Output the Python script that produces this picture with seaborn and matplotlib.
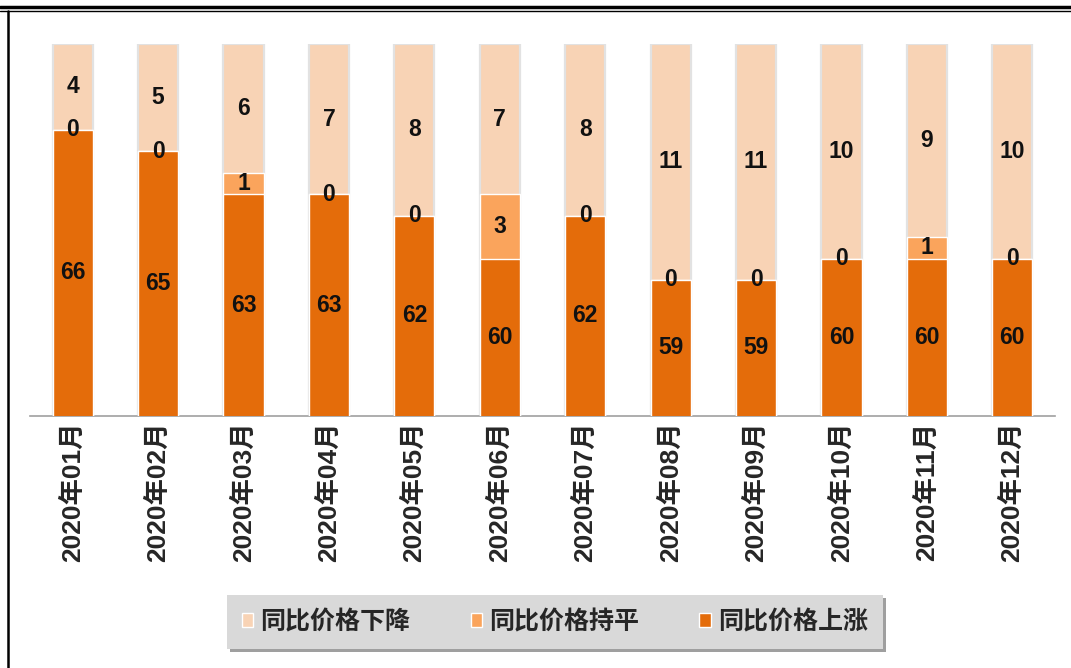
import matplotlib
matplotlib.use("Agg")
import matplotlib.pyplot as plt
import seaborn as sns
import pandas as pd
from matplotlib.lines import Line2D
from matplotlib.patches import Patch

# Monthly count of cities by year-on-year price change
months = ["2020年01月", "2020年02月", "2020年03月", "2020年04月", "2020年05月", "2020年06月",
          "2020年07月", "2020年08月", "2020年09月", "2020年10月", "2020年11月", "2020年12月"]
rise = [66, 65, 63, 63, 62, 60, 62, 59, 59, 60, 60, 60]
flat = [0, 0, 1, 0, 0, 3, 0, 0, 0, 0, 1, 0]
fall = [4, 5, 6, 7, 8, 7, 8, 11, 11, 10, 9, 10]
series_names = ["同比价格下降", "同比价格持平", "同比价格上涨"]
series_colors = ["#F8D3B5", "#FAA45C", "#E46C0A"]
y_floor = 52.66

sns.set_style("white")
plt.rcParams["font.family"] = ["Liberation Sans", "Noto Sans CJK SC", "DejaVu Sans"]

df = pd.DataFrame({"month": months, "rise": rise, "flat": flat, "fall": fall})
df["rise_flat"] = df["rise"] + df["flat"]
df["total"] = df["rise_flat"] + df["fall"]

W, H = 1071, 668
fig = plt.figure(figsize=(W / 100, H / 100), dpi=100)
ax = fig.add_axes([30 / W, 1 - 416 / H, 1025 / W, 372 / H])

bar_w = 0.47
# stacked bars: draw cumulative totals from the top layer down
sns.barplot(data=df, x="month", y="total", color=series_colors[0], saturation=1,
            width=bar_w, edgecolor="#E2E2E2", linewidth=1.6, errorbar=None, ax=ax, zorder=2)
sns.barplot(data=df, x="month", y="rise_flat", color=series_colors[1], saturation=1,
            width=bar_w, edgecolor="white", linewidth=1.0, errorbar=None, ax=ax, zorder=3)
sns.barplot(data=df, x="month", y="rise", color=series_colors[2], saturation=1,
            width=bar_w, edgecolor="white", linewidth=1.0, errorbar=None, ax=ax, zorder=4)

ax.set_xlim(-0.5, len(months) - 0.5)
ax.set_ylim(y_floor, 70)

# value labels centred in each visible segment
lab_kw = dict(ha="center", va="center", fontsize=16.5, fontweight="bold", color="#111111", zorder=6)
for i, row in df.iterrows():
    ax.text(i, (y_floor + row["rise"]) / 2, f"{row['rise']}", **lab_kw)
    ax.text(i, row["rise"] + row["flat"] / 2, f"{row['flat']}", **lab_kw)
    ax.text(i, row["rise_flat"] + row["fall"] / 2, f"{row['fall']}", **lab_kw)

# axes styling
for s in ["top", "right", "left"]:
    ax.spines[s].set_visible(False)
ax.spines["bottom"].set_color("#A0A0A0")
ax.spines["bottom"].set_linewidth(1.2)
ax.set_yticks([])
ax.set_xlabel("")
ax.set_ylabel("")
ax.set_xticks(range(len(months)))
ax.set_xticklabels(months, rotation=90, fontsize=19, fontweight="bold", va="top")
ax.tick_params(axis="x", which="major", length=0, pad=4)
ax.set_xticks([i - 0.5 for i in range(len(months) + 1)], minor=True)
ax.tick_params(axis="x", which="minor", length=6, width=1.2, color="#A0A0A0", direction="out")

# legend
handles = [Patch(facecolor=c, edgecolor="white", linewidth=1.0) for c in series_colors]
leg = fig.legend(handles, series_names, loc="center", bbox_to_anchor=(555 / W, 1 - 622 / H),
                 ncol=3, frameon=True, facecolor="#D9D9D9", edgecolor="#D9D9D9",
                 shadow=True, fancybox=False, framealpha=1,
                 prop=dict(weight="bold", size=18), handlelength=0.45, handleheight=0.45,
                 columnspacing=2.4, handletextpad=0.3, borderpad=0.45, borderaxespad=0)
leg.get_frame().set_linewidth(0)
leg.get_frame().set_boxstyle("square", pad=0.15)

# outer frame lines
fig.add_artist(Line2D([0, 1], [1 - 7 / H, 1 - 7 / H], color="black", linewidth=2.5))
fig.add_artist(Line2D([0, 1], [1 - 11 / H, 1 - 11 / H], color="black", linewidth=1.0))
fig.add_artist(Line2D([8 / W, 8 / W], [0, 1 - 11 / H], color="black", linewidth=1.8))

fig.savefig("out.png", dpi=100)
